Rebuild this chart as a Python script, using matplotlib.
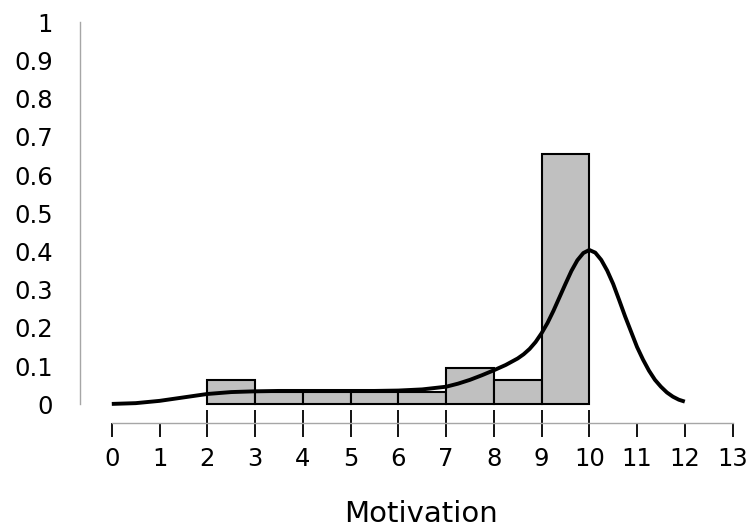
import matplotlib
matplotlib.use("Agg")
import matplotlib.pyplot as plt

plt.rcParams['font.family'] = ['DejaVu Sans']

# Histogram (relative frequency) of Motivation
bin_left = [2, 3, 4, 5, 6, 7, 8, 9]
bin_height = [0.0625, 0.03125, 0.03125, 0.03125, 0.03125, 0.09375, 0.0625, 0.65625]

# Density curve
curve_x = [0, 0.5, 1, 1.5, 2, 2.5, 3, 3.5, 4, 4.5, 5, 5.5, 6, 6.5, 7, 7.25, 7.5,
           7.75, 8, 8.25, 8.5, 8.625, 8.75, 8.875, 9, 9.125, 9.25, 9.375, 9.5,
           9.625, 9.75, 9.875, 10, 10.125, 10.25, 10.375, 10.5, 10.625, 10.75,
           10.875, 11, 11.125, 11.25, 11.375, 11.5, 11.625, 11.75, 11.875, 12]
curve_y = [0.001, 0.003, 0.009, 0.018, 0.027, 0.032, 0.034, 0.035, 0.035, 0.035,
           0.035, 0.035, 0.036, 0.039, 0.046, 0.054, 0.064, 0.076, 0.089, 0.103,
           0.12, 0.131, 0.145, 0.163, 0.186, 0.213, 0.245, 0.28, 0.315, 0.349,
           0.377, 0.396, 0.404, 0.397, 0.378, 0.35, 0.315, 0.273, 0.23, 0.19,
           0.15, 0.117, 0.088, 0.064, 0.046, 0.031, 0.02, 0.012, 0.007]

x_ticks = list(range(0, 14))
y_ticks = [0, 0.1, 0.2, 0.3, 0.4, 0.5, 0.6, 0.7, 0.8, 0.9, 1]
y_ticklabels = ['0', '0.1', '0.2', '0.3', '0.4', '0.5', '0.6', '0.7', '0.8', '0.9', '1']
x_label = 'Motivation'

W, H = 750, 527
fig = plt.figure(figsize=(W / 100, H / 100), dpi=100)

# pixel geometry
px_x0 = 111.8      # x = 0
px_per_x = 47.75
px_y0 = 404.3      # y = 0
px_per_y = 382.0
left_px, right_px = 80, px_x0 + 13 * px_per_x
top_px = px_y0 - px_per_y * 1.0
axis_y = -(423 - px_y0) / px_per_y
bottom_val = -(437 - px_y0) / px_per_y
bottom_px = 437

ax = fig.add_axes([left_px / W, 1 - bottom_px / H, (right_px - left_px) / W,
                   (bottom_px - top_px) / H])
ax.set_xlim((left_px - px_x0) / px_per_x, 13)
ax.set_ylim(bottom_val, 1.0)

ax.bar(bin_left, bin_height, width=1, align='edge', color='#c0c0c0',
       edgecolor='black', linewidth=1.5, zorder=2)
ax.plot(curve_x, curve_y, color='black', linewidth=2.8, zorder=3,
        solid_capstyle='butt', solid_joinstyle='round')

for s in ['top', 'right']:
    ax.spines[s].set_visible(False)
ax.spines['left'].set_bounds(0, 1)
ax.spines['left'].set_color('#a6a6a6')
ax.spines['left'].set_linewidth(1.0)
ax.spines['bottom'].set_position(('data', axis_y))
ax.spines['bottom'].set_bounds(0, 13)
ax.spines['bottom'].set_color('#a6a6a6')
ax.spines['bottom'].set_linewidth(1.0)

ax.set_yticks(y_ticks)
ax.set_yticklabels(y_ticklabels)
ax.tick_params(axis='y', length=0, pad=19.5, labelsize=17.5, colors='black')
ax.set_xticks(x_ticks)
ax.set_xticklabels([str(v) for v in x_ticks])
ax.tick_params(axis='x', direction='out', length=10.0, width=1.3, color='black',
               pad=7.0, labelsize=17.5)

# extended tick marks at bin edges
edge_ticks = bin_left + [bin_left[-1] + 1]
ax.vlines(edge_ticks, axis_y, -(410 - px_y0) / px_per_y, color='black',
          linewidth=1.3, zorder=1)

fig.text(421 / W, 1 - 521.7 / H, x_label, ha='center', va='baseline', fontsize=21)

fig.savefig('out.png', dpi=100)
